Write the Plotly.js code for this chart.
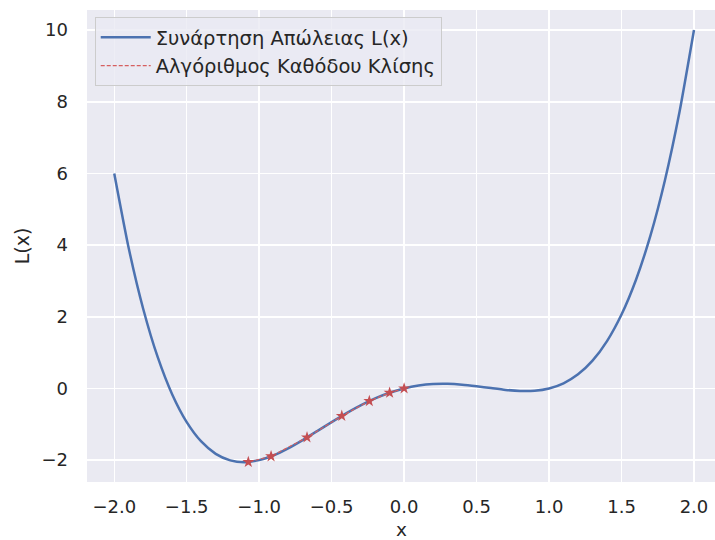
<!DOCTYPE html>
<html><head><meta charset="utf-8">
<script src="https://cdn.plot.ly/plotly-3.0.1.min.js"></script>
<style>html,body{margin:0;padding:0;background:#fff;overflow:hidden}</style>
</head><body><div id="chart" style="width:715px;height:540px"></div>
<script>
// Loss curve L(x)
const curveX = [-2.0,-1.9,-1.8,-1.7,-1.6,-1.5,-1.4,-1.3,-1.2,-1.1,-1.0,-0.9,-0.8,-0.7,-0.6,-0.5,-0.4,-0.3,-0.2,-0.1,0.0,
                0.1,0.2,0.3,0.4,0.5,0.6,0.7,0.8,0.9,1.0,1.1,1.2,1.3,1.4,1.5,1.6,1.7,1.8,1.9,2.0];
const curveY = [6.0,3.912,2.218,0.872,-0.166,-0.938,-1.478,-1.824,-2.006,-2.056,-2.0,-1.864,-1.670,-1.440,-1.190,-0.938,-0.694,-0.472,-0.278,-0.120,0.0,
                0.080,0.122,0.128,0.106,0.063,0.010,-0.040,-0.070,-0.064,0.0,0.144,0.394,0.776,1.322,2.063,3.034,4.272,5.818,7.712,10.0];
// Gradient descent steps
const gdX = [0.0,-0.10,-0.24,-0.43,-0.67,-0.918,-1.075];
const gdY = [0.0,-0.120,-0.351,-0.766,-1.366,-1.893,-2.051];
const seriesNames = ["Συνάρτηση Απώλειας L(x)", "Αλγόριθμος Καθόδου Κλίσης"];
const xTicks = [-2.0,-1.5,-1.0,-0.5,0.0,0.5,1.0,1.5,2.0];
const xTickText = ["−2.0","−1.5","−1.0","−0.5","0.0","0.5","1.0","1.5","2.0"];
const yTicks = [-2,0,2,4,6,8,10];
const yTickText = ["−2","0","2","4","6","8","10"];
const xTitle = 'x', yTitle = 'L(x)';

const FONT = 'DejaVu Sans, sans-serif';
const traces = [
  {x: curveX, y: curveY, type:'scatter', mode:'lines', name: seriesNames[0],
   line:{color:'#4C72B0', width:2.5, shape:'spline', smoothing:0.6}},
  {x: gdX, y: gdY, type:'scatter', mode:'lines', name: seriesNames[1],
   line:{color:'#D65F5F', width:1.2, dash:'4px,2px'}},
  {x: gdX, y: gdY, type:'scatter', mode:'markers', showlegend:false,
   marker:{symbol:'star', size:9, color:'#C44E52'}}
];
const layout = {
  width:715, height:540,
  margin:{l:87, r:0, t:10, b:58},
  paper_bgcolor:'#ffffff', plot_bgcolor:'#EAEAF2',
  font: {family:FONT, size:18, color:'#262626'},
  showlegend:true,
  legend:{x:0.0123, y:0.985, xanchor:'left', yanchor:'top',
          bgcolor:'rgba(234,234,242,0.8)', bordercolor:'#CCCCCC', borderwidth:1,
          font:{family:FONT, size:19.5, color:'#262626'},
          tracegroupgap:0, itemwidth:50},
  xaxis:{range:[-2.188, 2.145], tickvals:xTicks, ticktext:xTickText, showgrid:true,
         gridcolor:'#FFFFFF', gridwidth:1.5, zeroline:false, showline:false, ticks:'',
         ticklabelstandoff:12, automargin:false,
         tickfont:{family:FONT, size:18, color:'#262626'}},
  yaxis:{range:[-2.61, 10.56], tickvals:yTicks, ticktext:yTickText, showgrid:true,
         gridcolor:'#FFFFFF', gridwidth:1.5, zeroline:false, showline:false, ticks:'',
         ticklabelstandoff:18, automargin:false,
         tickfont:{family:FONT, size:18, color:'#262626'},
         title:{text:yTitle, font:{family:FONT, size:19, color:'#262626'}, standoff:6}},
  annotations:[{text:xTitle, xref:'paper', yref:'paper', x:0.5, y:-0.1, xanchor:'center', yanchor:'middle',
                showarrow:false, font:{family:FONT, size:18.5, color:'#262626'}}]
};
Plotly.newPlot('chart', traces, layout, {displayModeBar:false, staticPlot:true});
</script></body></html>
